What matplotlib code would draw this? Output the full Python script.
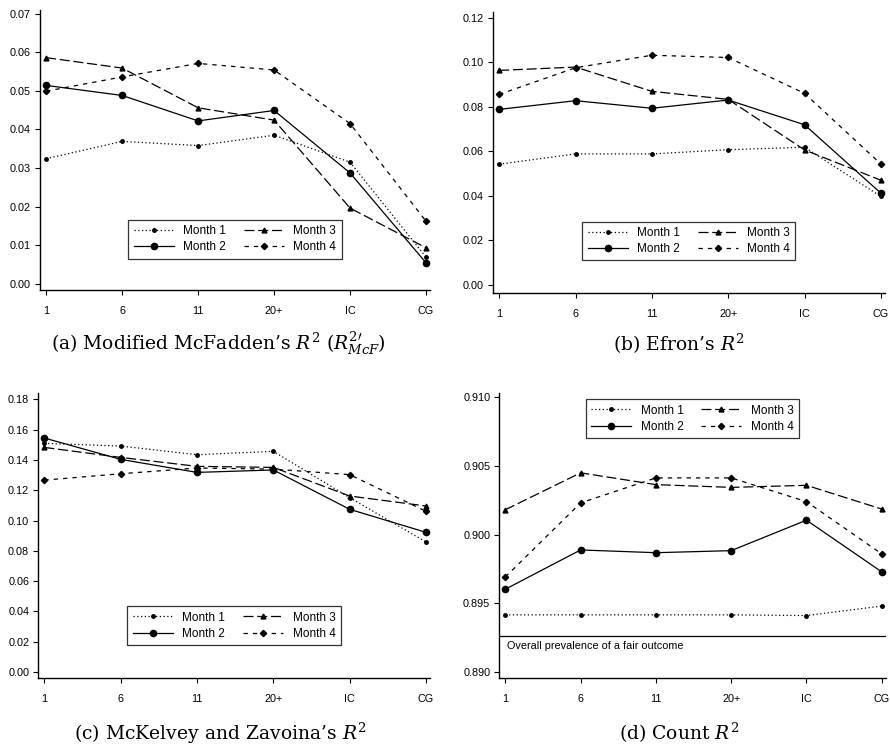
import matplotlib
matplotlib.use("Agg")
import matplotlib.pyplot as plt

categories = ["1", "6", "11", "20+", "IC", "CG"]
series_names = ["Month 1", "Month 2", "Month 3", "Month 4"]

# (a) Modified McFadden's R2
mcf_m1 = [0.0324, 0.0369, 0.0358, 0.0385, 0.0315, 0.0069]
mcf_m2 = [0.0514, 0.0488, 0.0422, 0.0449, 0.0287, 0.0054]
mcf_m3 = [0.0586, 0.0559, 0.0456, 0.0424, 0.0196, 0.0093]
mcf_m4 = [0.0499, 0.0536, 0.0571, 0.0554, 0.0415, 0.0162]

# (b) Efron's R2
efron_m1 = [0.0542, 0.0588, 0.0588, 0.0607, 0.0618, 0.0397]
efron_m2 = [0.0788, 0.0827, 0.0793, 0.0830, 0.0719, 0.0412]
efron_m3 = [0.0963, 0.0978, 0.0869, 0.0833, 0.0606, 0.0470]
efron_m4 = [0.0855, 0.0975, 0.1031, 0.1021, 0.0860, 0.0543]

# (c) McKelvey and Zavoina's R2
mz_m1 = [0.1510, 0.1492, 0.1435, 0.1457, 0.1151, 0.0858]
mz_m2 = [0.1545, 0.1404, 0.1318, 0.1334, 0.1074, 0.0922]
mz_m3 = [0.1483, 0.1417, 0.1358, 0.1351, 0.1162, 0.1096]
mz_m4 = [0.1267, 0.1309, 0.1347, 0.1340, 0.1303, 0.1061]

# (d) Count R2
cnt_m1 = [0.89416, 0.89416, 0.89416, 0.89416, 0.89411, 0.89480]
cnt_m2 = [0.89603, 0.89889, 0.89869, 0.89884, 0.90106, 0.89729]
cnt_m3 = [0.90182, 0.90451, 0.90365, 0.90345, 0.90360, 0.90187]
cnt_m4 = [0.89692, 0.90232, 0.90414, 0.90414, 0.90241, 0.89860]
prevalence = 0.89259

yticks_a = [0.00, 0.01, 0.02, 0.03, 0.04, 0.05, 0.06, 0.07]
yticks_b = [0.00, 0.02, 0.04, 0.06, 0.08, 0.10, 0.12]
yticks_c = [0.00, 0.02, 0.04, 0.06, 0.08, 0.10, 0.12, 0.14, 0.16, 0.18]
yticks_d = [0.890, 0.895, 0.900, 0.905, 0.910]

plt.rcParams["font.family"] = ["Liberation Sans", "DejaVu Sans"]
plt.rcParams["mathtext.fontset"] = "dejavuserif"

styles = [
    dict(linestyle=(0, (1, 2)), marker="o", markersize=2.5),
    dict(linestyle="-", marker="o", markersize=4.5),
    dict(linestyle=(0, (8, 3)), marker="^", markersize=3.5),
    dict(linestyle=(0, (3.5, 4)), marker="D", markersize=3.2),
]


def draw_panel(ax, data, yticks, ylim, fmt, legend_loc, legend_anchor):
    x = list(range(len(categories)))
    for name, vals, st in zip(series_names, data, styles):
        ax.plot(x, vals, color="black", linewidth=0.9, label=name, **st)
    ax.set_xticks(x)
    ax.set_xticklabels(categories)
    ax.set_xlim(-0.08, 5.05)
    ax.set_yticks(yticks)
    ax.set_yticklabels([fmt % v for v in yticks])
    ax.set_ylim(*ylim)
    for s in ["top", "right"]:
        ax.spines[s].set_visible(False)
    for s in ["left", "bottom"]:
        ax.spines[s].set_linewidth(1.0)
    ax.tick_params(labelsize=7.8, length=3.5, width=0.8, pad=3)
    ax.tick_params(axis="x", pad=8)
    leg = ax.legend(loc=legend_loc, bbox_to_anchor=legend_anchor, ncol=2,
                    fontsize=8.5, handlelength=3.4, columnspacing=1.5,
                    handletextpad=0.8, labelspacing=0.35, fancybox=False,
                    borderpad=0.45)
    leg.get_frame().set_edgecolor("black")
    leg.get_frame().set_linewidth(0.9)


fig = plt.figure(figsize=(8.9, 7.53), dpi=100)
ax_a = fig.add_axes([0.045, 0.615, 0.438, 0.372])
ax_b = fig.add_axes([0.554, 0.611, 0.440, 0.373])
ax_c = fig.add_axes([0.043, 0.0996, 0.440, 0.378])
ax_d = fig.add_axes([0.561, 0.0996, 0.434, 0.378])

draw_panel(ax_a, [mcf_m1, mcf_m2, mcf_m3, mcf_m4], yticks_a, (-0.0016, 0.0710),
           "%.2f", "lower center", (0.5, 0.09))
draw_panel(ax_b, [efron_m1, efron_m2, efron_m3, efron_m4], yticks_b, (-0.0036, 0.1225),
           "%.2f", "lower center", (0.5, 0.095))
draw_panel(ax_c, [mz_m1, mz_m2, mz_m3, mz_m4], yticks_c, (-0.004, 0.184),
           "%.2f", "lower center", (0.5, 0.095))
draw_panel(ax_d, [cnt_m1, cnt_m2, cnt_m3, cnt_m4], yticks_d, (0.88956, 0.9103),
           "%.3f", "upper center", (0.5, 1.0))

ax_d.axhline(prevalence, color="black", linewidth=0.9)
ax_d.text(0.02, prevalence - 0.0003, "Overall prevalence of a fair outcome",
          transform=ax_d.get_yaxis_transform(), fontsize=7.8, va="top", ha="left")

cap_kw = dict(fontsize=13.5, family=["DejaVu Serif"], ha="center", va="center")
fig.text(218 / 890, 1 - 344 / 753, "(a) Modified McFadden\u2019s $R^2$ ($R^{2\\prime}_{McF}$)", **cap_kw)
fig.text(679 / 890, 1 - 344 / 753, "(b) Efron\u2019s $R^2$", **cap_kw)
fig.text(220 / 890, 1 - 733 / 753, "(c) McKelvey and Zavoina\u2019s $R^2$", **cap_kw)
fig.text(679 / 890, 1 - 733 / 753, "(d) Count $R^2$", **cap_kw)

fig.savefig("out.png", dpi=100)
